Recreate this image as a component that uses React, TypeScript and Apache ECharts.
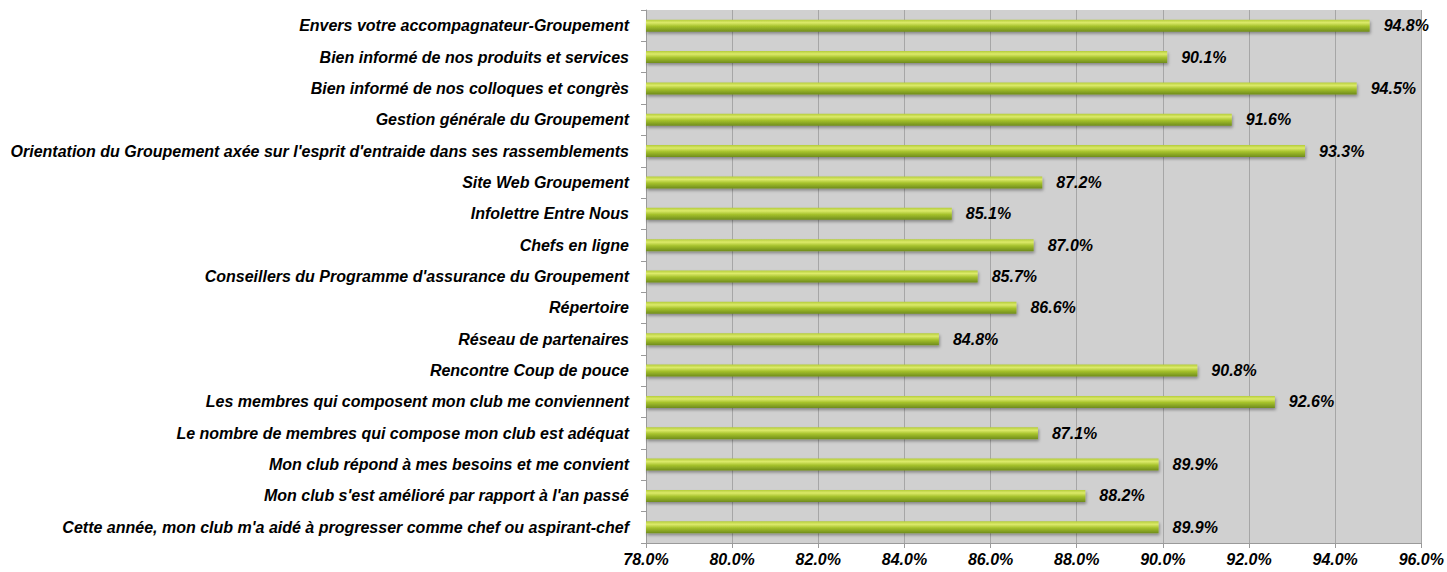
import React, { useEffect, useRef } from "react";
import * as echarts from "echarts";

const categories = [
  "Envers votre accompagnateur-Groupement",
  "Bien informé de nos produits et services",
  "Bien informé de nos colloques et congrès",
  "Gestion générale du Groupement",
  "Orientation du Groupement axée sur l'esprit d'entraide dans ses rassemblements",
  "Site Web Groupement",
  "Infolettre Entre Nous",
  "Chefs en ligne",
  "Conseillers du Programme d'assurance du Groupement",
  "Répertoire",
  "Réseau de partenaires",
  "Rencontre Coup de pouce",
  "Les membres qui composent mon club me conviennent",
  "Le nombre de membres qui compose mon club est adéquat",
  "Mon club répond à mes besoins et me convient",
  "Mon club s'est amélioré par rapport à l'an passé",
  "Cette année, mon club m'a aidé à progresser comme chef ou aspirant-chef",
];

const values = [94.8, 90.1, 94.5, 91.6, 93.3, 87.2, 85.1, 87.0, 85.7, 86.6, 84.8, 90.8, 92.6, 87.1, 89.9, 88.2, 89.9];

const axisMin = 78;
const axisMax = 96;
const axisStep = 2;

const FONT = "'Liberation Sans', Arial, sans-serif";

export default function App() {
  const ref = useRef<HTMLDivElement>(null);
  useEffect(() => {
    if (!ref.current) return;
    const chart = echarts.init(ref.current, undefined, { renderer: "svg" });
    chart.setOption({
      animation: false,
      backgroundColor: "#ffffff",
      grid: {
        left: 646,
        right: 25,
        top: 10,
        bottom: 29,
        show: true,
        backgroundColor: "#d0d0d0",
        borderWidth: 0,
      },
      xAxis: {
        type: "value",
        min: axisMin,
        max: axisMax,
        interval: axisStep,
        axisLine: { show: true, lineStyle: { color: "#9a9a9a", width: 1 } },
        axisTick: { show: true, length: 5, lineStyle: { color: "#9a9a9a" } },
        splitLine: { show: true, lineStyle: { color: "#a6a6a6", width: 1 } },
        axisLabel: {
          margin: 8,
          color: "#000",
          fontFamily: FONT,
          fontSize: 16,
          fontWeight: "bold",
          fontStyle: "italic",
          formatter: (v: number) => v.toFixed(1) + "%",
        },
      },
      yAxis: {
        type: "category",
        data: categories,
        inverse: true,
        axisLine: { show: true, lineStyle: { color: "#9a9a9a", width: 1 } },
        axisTick: { show: true, length: 5, lineStyle: { color: "#9a9a9a" } },
        splitLine: { show: false },
        axisLabel: {
          margin: 17,
          color: "#000",
          fontFamily: FONT,
          fontSize: 16,
          fontWeight: "bold",
          fontStyle: "italic",
        },
      },
      series: [
        {
          type: "bar",
          data: values,
          barWidth: 12,
          itemStyle: {
            color: new echarts.graphic.LinearGradient(0, 0, 0, 1, [
              { offset: 0, color: "#b4cc3a" },
              { offset: 0.25, color: "#dcea6a" },
              { offset: 0.55, color: "#a6c22c" },
              { offset: 1, color: "#6f8c1c" },
            ]),
            shadowColor: "rgba(0,0,0,0.35)",
            shadowBlur: 3,
            shadowOffsetX: 1,
            shadowOffsetY: 2,
          },
          label: {
            show: true,
            position: "right",
            distance: 14,
            color: "#000",
            fontFamily: FONT,
            fontSize: 16,
            fontWeight: "bold",
            fontStyle: "italic",
            formatter: (p: any) => p.value.toFixed(1) + "%",
          },
        },
      ],
    });
    return () => chart.dispose();
  }, []);
  return (
    <div
      ref={ref}
      style={{ position: "fixed", left: 0, top: 0, width: 1447, height: 572 }}
    />
  );
}
